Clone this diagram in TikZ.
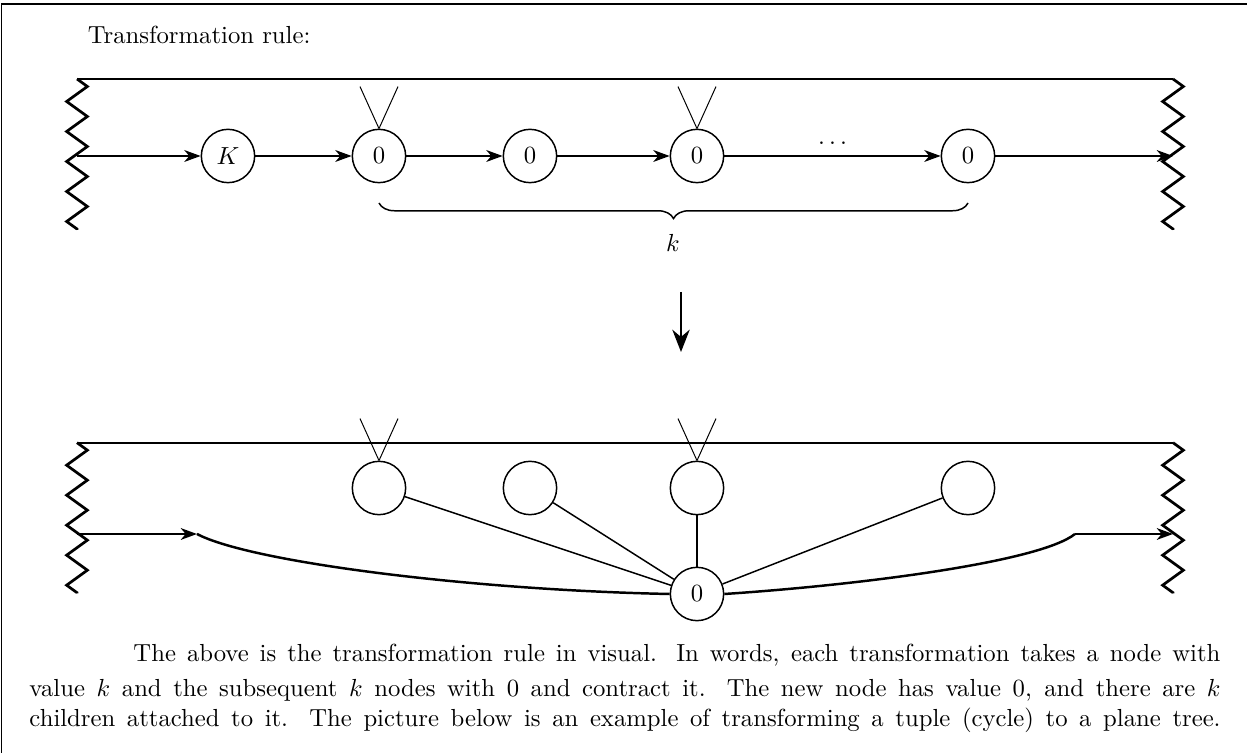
\documentclass[tikz,border=0pt]{standalone}
\usetikzlibrary{arrows.meta,decorations.pathmorphing,decorations.pathreplacing}
\begin{document}
\begin{tikzpicture}[x=0.405pt,y=-0.405pt]
\tikzset{
  vtx/.style={circle, draw, semithick, minimum size=21.6pt, inner sep=0pt},
  arr/.style={semithick, -{Stealth[length=6.6pt, width=4.8pt, inset=2pt]}},
  lin/.style={semithick},
  wall/.style={line width=1.1pt, decorate, decoration={zigzag, segment length=12.15pt, amplitude=4.2pt}},
  roof/.style={line width=0.9pt},
  vee/.style={thin},
  frame/.style={line width=0.5pt},
  txt/.style={anchor=base west, inner sep=0pt}
}
\useasboundingbox (0,0) rectangle (1247,753);
% frame
\draw[frame] (1.7,753) -- (1.7,4) -- (1247,4);
\node[txt] (title) at (87.3,43.3) {Transformation rule:};

% ---------- top diagram ----------
\coordinate (tl) at (77,79);
\coordinate (tr) at (1173,79);
\coordinate (tlb) at (77,230);
\coordinate (trb) at (1173,230);
\draw[roof] (tl) -- (tr);
\draw[wall] (tl) -- (tlb);
\draw[wall] (tr) -- (trb);

\node[vtx] (K)  at (228,156) {$K$};
\node[vtx] (a1) at (379,156) {$0$};
\node[vtx] (a2) at (530,156) {$0$};
\node[vtx] (a3) at (697,156) {$0$};
\node[vtx] (a4) at (968,156) {$0$};
\coordinate (in1) at (77,156);
\coordinate (out1) at (1173,156);
\draw[arr] (in1) -- (K);
\draw[arr] (K) -- (a1);
\draw[arr] (a1) -- (a2);
\draw[arr] (a2) -- (a3);
\draw[arr] (a3) -- node[above=1pt] {$\ldots$} (a4);
\draw[arr] (a4) -- (out1);
\draw[vee] (a1.north) -- ++(-19,-42) (a1.north) -- ++(19,-42);
\draw[vee] (a3.north) -- ++(-19,-42) (a3.north) -- ++(19,-42);

\coordinate (br1) at (968,203);
\coordinate (br2) at (379,203);
\draw[semithick, decorate, decoration={brace, amplitude=6.3pt}] (br1) -- (br2);
\node (klab) at (673,243) {$k$};

% down arrow
\coordinate (d1) at (681,292);
\coordinate (d2) at (681,352);
\draw[line width=1.2pt, -{Stealth[length=9pt, width=7pt]}] (d1) -- (d2);

% ---------- bottom diagram ----------
\coordinate (bl) at (77,442.7);
\coordinate (br) at (1173,442.7);
\coordinate (blb) at (77,593.3);
\coordinate (brb) at (1173,593.3);
\draw[roof] (bl) -- (br);
\draw[wall] (bl) -- (blb);
\draw[wall] (br) -- (brb);

\node[vtx] (b1) at (379,488) {};
\node[vtx] (b2) at (530,488) {};
\node[vtx] (b3) at (697,488) {};
\node[vtx] (b4) at (968,488) {};
\node[vtx] (z)  at (697,594) {$0$};
\draw[vee] (b1.north) -- ++(-19,-42) (b1.north) -- ++(19,-42);
\draw[vee] (b3.north) -- ++(-19,-42) (b3.north) -- ++(19,-42);
\draw[lin] (b1) -- (z);
\draw[lin] (b2) -- (z);
\draw[lin] (b3) -- (z);
\draw[lin] (b4) -- (z);

\coordinate (in2) at (77,534);
\coordinate (L) at (197,534);
\coordinate (R) at (1075,534);
\coordinate (out2) at (1173,534);
\draw[arr] (in2) -- (L);
\draw[arr] (R) -- (out2);
\draw[line width=1pt] (L) .. controls (250,562) and (470,590) .. (z.west);
\draw[line width=1pt] (z.east) .. controls (860,585) and (1040,562) .. (R);

% ---------- text ----------
\node[txt] (p1) at (133,662) {\makebox[440.2pt][s]{The above is the transformation rule in visual. In words, each transformation takes a node with}};
\node[txt] (p2) at (29,697) {\makebox[482.4pt][s]{value $k$ and the subsequent $k$ nodes with 0 and contract it. The new node has value 0, and there are $k$}};
\node[txt] (p3) at (29,727) {\makebox[482.4pt][s]{children attached to it. The picture below is an example of transforming a tuple (cycle) to a plane tree.}};
\end{tikzpicture}
\end{document}
